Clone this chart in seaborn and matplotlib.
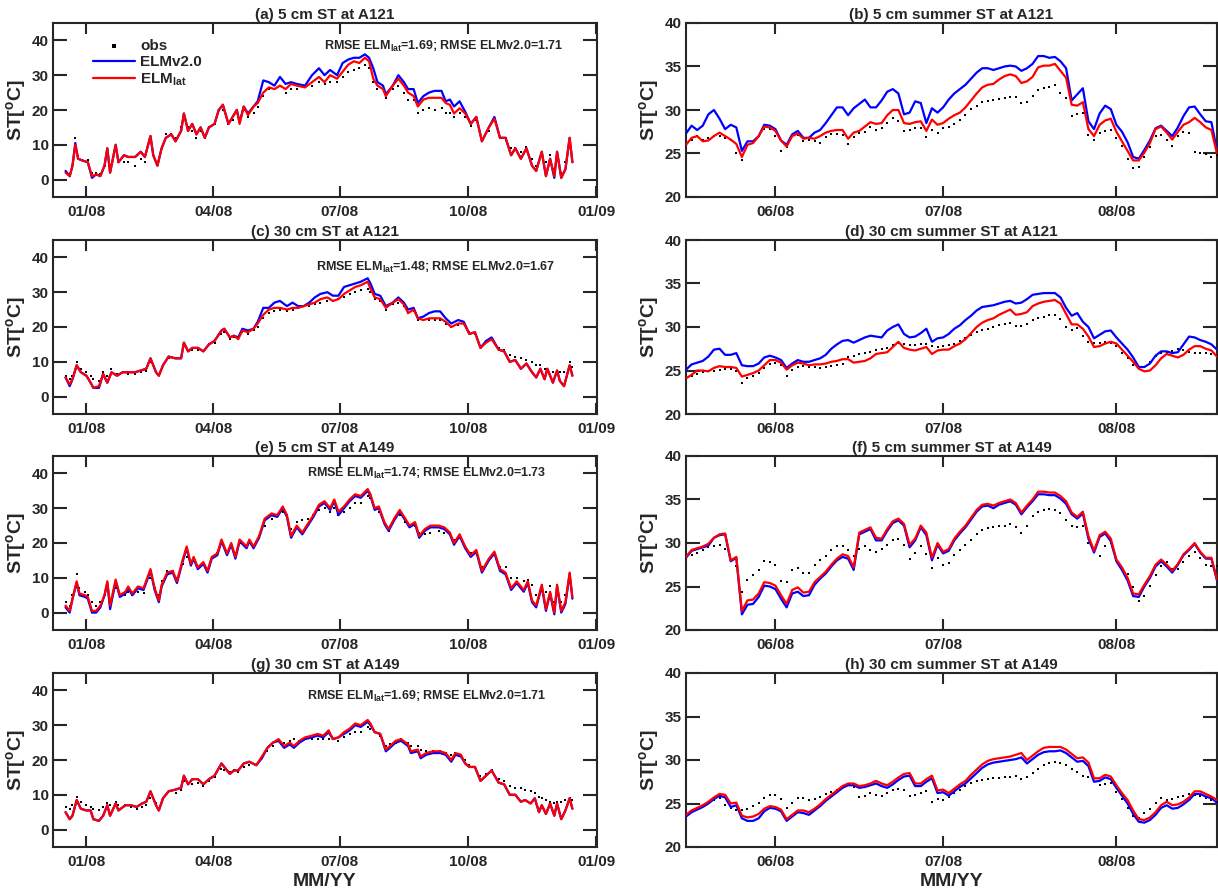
import numpy as np
import pandas as pd
import matplotlib
matplotlib.use("Agg")
import matplotlib.pyplot as plt
import matplotlib.dates as mdates
import seaborn as sns

# ---------------- data ----------------
# Annual panels: day offsets from 1 Jan 2008
days_a = [-15,-12,-10,-8,-6,-3,1,4,7,10,13,15,17,21,23,27,30,35,39,42,46,48,51,54,57,61,64,68,70,73,76,79,82,85,88,92,95,98,102,105,108,110,113,116,120,123,127,131,135,139,143,147,151,157,162,167,171,175,180,184,188,192,196,200,203,206,209,213,215,220,224,228,231,235,238,242,246,250,255,258,261,264,268,272,276,280,284,289,293,297,301,305,308,312,316,320,323,327,330,333,336,338,341,344,347,349]
lat_a = [2,1,4,10,6,5.5,5,1,1.5,1,4,9,2,10,5,7,6.5,6.5,8,6.5,12.5,7,4,9,12,13,11,14,19,14,16,13,15,12,15,16,20,21.5,16,18,20,16,21,18.5,21,22,25,26.5,26,27,26,27.5,27,26.5,28,29.5,28,30,29,31,33,34,33.5,35,34,29,27,26,24,27,29,27,25,24,21,23,23.5,23.5,23.5,22,21.5,19,20.5,19,16,18,11,15,17.5,12,12,7,9,6,9,4,2.5,8,1,6,1,8,0.5,3,12,5]
v2_a = [2.5,1,4,10.5,6,5.5,5,0.5,1.5,1,4,9,2,10,5,7,6.5,6.5,8,6.5,12.5,7,4,9,12,13,11,14,19,14,16,13,15,12,15,16,20,21.5,16,18,20,16.5,21,19,21,22.5,28.5,28,27,29.5,27.5,28,27.5,27,30,32,30,31.5,30,33.5,34.5,35,35,36,35,32,28,27,24.5,27,30,28,26,26,22,24,25,25.5,25.5,22.5,23,21,22.5,19.5,16,18,11,15,18,12,12,7,9,6,9,4,2.5,8,1,6,0.5,8,0.5,3,12,5]
obs_a = [2,1,4,12,6.5,5.5,5.5,2,2,1.5,4,7,3,9,5,5,5,4,6,5,11,7,5,9,13,13,12,15,18,15,14,12,14,12,15,16,20,20,16,17,20,17,20,18,19,21,24,26,26,27,25,26,26,26.5,27,28,27.5,28,28,29.5,31,31.5,32,33,32,28,26,26,23.5,26,27,25,23,23,19,20,20.5,20,20.5,19,19,18,19,18,15.5,17,11,14,17,12,12,9,9,8,9.5,6,4,8,5,7,3,7,2,5,10,6]

days_c = [-15,-12,-10,-7,-4,0,3,5,9,12,15,18,22,26,30,35,39,43,46,50,52,55,59,64,68,70,73,76,80,84,88,92,97,99,103,106,109,112,116,120,123,127,131,135,139,144,148,152,156,160,164,168,173,177,181,185,189,193,197,202,204,207,211,215,220,224,228,231,235,238,242,246,250,254,258,262,267,271,275,279,283,287,291,296,300,304,308,312,316,320,323,326,329,331,335,338,340,343,347,349]
lat_c = [5.5,3.5,5,9,7,6,4,2.5,3,6.5,4,7,6,7,7,7,7.5,8,11,7,6,9,11.5,11,11,15.5,13,14,14,13,15,16,19,19.5,17,17.5,16.5,19,18.5,19.5,21,23.5,25,25.5,25.5,25,25.5,25.5,26,26.5,27,28,28.5,27.5,28,29.5,30.5,31.5,32,33,31,28.5,28,25.5,27,28,26.5,24,25,22.5,22,22.5,22.5,22.5,21.5,20,21,21,18,18.5,14,15.5,16.5,13.5,13,10,10.5,8,9.5,7,5.5,8,5,8,4,7.5,4.5,3,9,6]
v2_c = [5.5,3,5,9,7,6,4,2.5,2.5,6.5,4,7,6,7,7,7,7.5,8,11,7,6,9,11.5,11,11,15.5,13,14,14,13,15,16,19,19.5,17,17.5,17,19.5,19,19.5,21.5,25.5,25.5,27,27.5,26,27,26,26,27,28.5,29.5,30,29,29,31.5,32,32.5,33,34,32.5,29.5,29,26,27,28.5,27,25,25.5,22.5,23,24,24.5,24.5,22.5,21,22,21.5,18,18.5,14,16,17,13.5,13,10,10.5,8,9.5,7,5.5,8,5,8,4,7.5,4.5,3,9,6]
obs_c = [6,5,6,10,8,7,6,5,4.5,7,6,8,6.5,7,6.5,6.5,7,7.5,10,7,6.5,9,11,11,11.5,14.5,13,13.5,13.5,13,15,15.5,18,18.5,16.5,17,16.5,18.5,18,19,20,22.5,24,24.5,25,24.5,25,25.5,26,26,26.5,27,27.5,27.5,28,28.5,29.5,30,30.5,31,30,28,27.5,25,26.5,27,26,24,24.5,22,22,22,22,22,21,20,20.5,21,18.5,18,14.5,16,16.5,14,13.5,12,11.5,11,10.5,10,9,9,8,8,7,7,7,7,10,8.5]

days_e = [-15,-12,-10,-7,-5,-1,1,4,7,10,13,15,17,21,24,28,30,33,37,41,46,49,52,54,58,62,65,69,72,75,77,80,84,87,90,94,97,101,104,107,110,115,117,120,124,128,133,137,141,144,147,151,155,159,163,167,171,175,178,181,185,189,193,197,202,204,207,210,214,217,221,225,229,232,236,239,243,247,253,257,261,264,268,272,276,280,284,289,293,297,301,305,309,314,317,320,323,327,330,333,336,338,341,344,347,349]
lat_e = [2,0.5,4,9,5.5,5,4.5,0.5,0.5,2,5,9,2,9.5,5,6,7.5,5.5,7.5,7,12.5,7,3.5,8,11.5,12,9,15,19,14,16,13,14.5,12,16,17,21,17,20,16,21,19,21,19,22,27,28.5,28,30.5,28,22,25,23,25.5,28,31,32,30,32.5,29,30.5,32.5,34,33.5,35.5,34,30,30.5,26,24,27,29.5,27,25,26,22,24,25,25,24.5,23,20,22.5,19,16.5,18,12,15.5,17.5,12.5,11.5,7,9,6.5,9,3.5,2,8,1,6,0,8,0.5,3,11.5,4.5]
v2_e = [1.5,0,4,8.5,5,4.5,4,0,0,1.5,5,8.5,1,9,4.5,5.5,7,5,7,6.5,12,6.5,3,7.5,11,11.5,8.5,14.5,18.5,13.5,15.5,12.5,14,11.5,15.5,16.5,20.5,16.5,19.5,15.5,20.5,18.5,20.5,18.5,21.5,26.5,28,27.5,30,27.5,21.5,24.5,22.5,25,27.5,30.5,31.5,29.5,32,28,30,32,33.5,33,35,33.5,29.5,30,25.5,23.5,26.5,29,26.5,24.5,25.5,21.5,23.5,24.5,24.5,24,22.5,19.5,22,18.5,16,17.5,11.5,15,17,12,11,6.5,8.5,6,8.5,3,1.5,7.5,0.5,5.5,-0.5,7.5,0,2.5,11,4]
obs_e = [3,2,5,11,7,6,5,3,2,3,5,7,3,7,5,5,6,5,6,5.5,10,7,5,9,12,12,10,14,16,14,15,13,14,12,16,17,20,17,19,17,20,19,20,19,22,25,27,28,29,28,24,26,26.5,27,28,29.5,30,29,30,28,29,30,31.5,31.5,33.5,33,30,29,26,23.5,27,28,26,25,25,23,22.5,23,23.5,23,22.5,21,21.5,19,17,17.5,13,15,16.5,13,13,10,10,9,9.5,8,5,8,6,7.5,3,8,3,5,11,6]

days_g = [-15,-12,-10,-7,-4,0,3,5,9,12,15,17,21,23,28,32,36,40,43,46,50,52,55,59,64,68,70,73,76,80,84,88,92,97,99,103,106,109,113,117,122,126,130,134,138,142,146,149,153,157,162,166,170,174,177,181,185,189,193,197,202,204,207,211,215,218,222,226,231,233,238,240,244,249,254,258,262,265,269,272,275,279,283,287,291,296,300,304,308,312,315,319,322,325,327,330,333,336,338,341,344,347,349]
lat_g = [5,3,4,8.5,6,5.5,5.5,3,2.5,4,7,4,7.5,5.5,7,7,6.5,7.5,8,11,7,5.5,9,11,11.5,12,15.5,13,14.5,14.5,13,14.5,15.5,19,18,16,17,17,19,19.5,18.5,21,23.5,25,26,24,25,24,25.5,26.5,27,27.5,27,28.5,26,26.5,28,29,30.5,30,31.5,30.5,28,27.5,23,24,25.5,26,24.5,22.5,23,21,22,22.5,22.5,22,20,22,21.5,19,18,18,14,15.5,17,13.5,13,10,10,8,8.5,7.5,9,5,7,4.5,7.5,4,7.5,3,5.5,9,6]
v2_g = [5,3,4,8.5,6,5.5,5.5,3,2.5,4,7,4,7.5,5.5,7,7,6.5,7.5,8,11,7,5.5,9,11,11.5,12,15.5,13,14.5,14.5,13,14.5,15.5,19,18,16,17,17,19,19.5,18.5,20.5,23.5,25,25.5,23.5,24.5,23.5,25,26,26.5,27,26.5,28,26,26.5,27.5,28.5,30,29.5,31,30,28,27.5,22.5,23.5,25,25.5,24,22,22.5,20.5,21.5,22,22,21.5,19.5,21.5,21,19,18,18,14,15.5,17,13.5,13,10,10,8,8.5,7.5,9,5,7,4.5,7.5,4,7.5,3,5.5,9,6]
obs_g = [6.5,6,7,9.5,8,7,6.5,6,5.5,6.5,7.5,7,8,7,7,6.5,6,6.5,7,9,7.5,6,9,11,10.5,11.5,14,13,13,13.5,12.5,14,15,17.5,17,16.5,17,16.5,18,18.5,18.5,20.5,22.5,24,25.5,25,25.5,26,25.5,26,26,26,26,26,26,25.5,26.5,27.5,28,28,29.5,29,28,27,24,24.5,25,26,25,24,24,23,22.5,22.5,22.5,22,21.5,22,21.5,20,18.5,18,15.5,16,17,14.5,14,12.5,12,12,11.5,11,10.5,9.5,9,8.5,8,7.5,8,8,8.5,9,8.5]

# Summer panels: daily values, day offsets from 1 Jun 2008
days_summer = list(range(-16, 80))
obs_b = [26.0,26.5,27.0,26.5,26.8,27.0,27.0,26.8,26.6,25.0,24.2,26.0,26.3,27.0,27.8,27.8,
         27.0,25.3,25.7,27.0,27.1,26.4,26.6,26.4,26.2,26.9,27.2,27.2,27.1,26.1,26.9,27.3,27.5,28.0,27.7,27.9,28.5,29.1,28.7,27.6,27.7,27.9,27.9,26.9,27.7,27.4,
         27.9,28.1,28.4,28.8,29.4,30.1,30.5,30.9,31.0,31.1,31.3,31.4,31.5,31.5,30.8,30.9,31.6,32.3,32.5,32.7,32.9,32.0,31.4,29.3,29.5,29.6,27.1,26.6,27.3,27.6,
         27.7,26.8,25.9,24.4,23.3,23.5,24.6,25.8,27.0,27.1,26.5,25.9,27.0,27.5,27.3,25.2,25.1,24.9,24.6,24.8]
v2_b = [27.3,28.2,27.7,28.2,29.5,30.0,29.0,27.8,28.3,28.0,25.3,26.4,26.4,27.0,28.3,28.2,
        27.8,26.5,26.0,27.2,27.6,26.8,26.8,27.4,27.7,28.5,29.4,30.3,30.3,29.4,30.2,30.7,31.2,30.3,30.3,31.1,32.1,32.4,31.9,29.5,29.7,31.0,30.8,28.5,30.2,29.7,
        30.3,31.2,31.9,32.4,32.9,33.6,34.3,34.8,34.8,34.6,34.8,35.0,35.1,35.0,34.5,34.8,35.3,36.2,36.2,36.0,36.1,35.6,34.8,31.1,31.8,32.5,28.7,27.8,29.6,30.5,
        30.1,28.3,27.5,26.3,24.6,24.4,25.4,26.5,27.9,28.2,27.6,27.0,28.0,29.3,30.3,30.4,29.5,28.7,28.6,25.3]
lat_b = [26.0,26.8,27.0,26.4,26.5,27.0,27.4,27.0,26.6,26.1,24.6,26.0,26.2,27.0,28.1,28.0,
         27.6,26.5,25.8,27.0,27.3,26.7,26.8,26.7,27.0,27.4,27.6,27.7,27.7,26.7,27.4,27.6,28.1,28.6,28.4,28.5,29.4,30.0,30.0,28.5,28.4,28.6,28.7,27.6,28.9,28.3,
         28.5,29.0,29.4,29.7,30.3,31.1,31.9,32.6,32.9,33.0,33.5,33.9,34.1,33.9,33.1,33.3,33.8,34.9,35.1,35.1,35.3,34.5,33.7,30.6,30.5,30.9,27.8,27.0,28.3,28.8,
         29.0,27.5,26.4,25.3,24.2,24.2,25.1,26.2,27.8,28.1,27.4,26.6,27.5,28.3,28.6,29.1,28.6,28.0,27.7,25.0]

obs_d = [24.1,24.4,24.6,24.8,24.9,25.0,25.1,25.2,25.2,24.9,23.6,24.1,24.4,24.7,25.3,25.8,
         25.9,25.6,24.4,25.1,25.4,25.5,25.4,25.4,25.3,25.4,25.5,25.6,25.7,26.5,26.7,26.9,27.0,27.1,27.3,27.5,27.6,27.9,28.2,28.0,27.9,27.9,28.0,28.0,27.8,27.7,
         27.8,27.9,28.1,28.4,28.7,29.1,29.4,29.6,29.8,30.0,30.2,30.4,30.5,30.1,30.1,30.4,30.8,31.0,31.2,31.4,31.4,30.9,30.0,29.7,29.9,29.0,28.3,28.2,28.2,28.3,
         28.2,27.8,27.0,26.4,25.6,25.3,25.4,26.0,26.7,27.0,27.0,27.2,27.5,27.3,27.1,27.0,27.0,27.0,26.9,26.8]
v2_d = [25.1,25.7,25.9,26.1,26.6,27.4,27.5,26.8,26.8,27.0,25.6,25.5,25.5,25.8,26.5,26.7,
        26.5,26.2,25.3,25.8,26.2,26.0,26.0,26.2,26.4,26.8,27.5,28.0,28.4,28.5,28.2,28.5,28.8,29.0,28.9,28.8,29.6,30.0,30.3,29.2,28.8,28.9,29.3,29.8,28.3,28.7,
        28.8,29.2,29.8,30.2,30.8,31.3,31.9,32.3,32.4,32.5,32.7,32.9,33.0,32.7,32.8,33.2,33.7,33.8,33.9,33.9,33.9,33.4,32.2,31.3,31.6,30.6,30.0,28.7,29.1,29.5,
        29.6,28.8,28.1,27.4,26.5,25.4,25.4,25.8,26.7,27.2,27.2,27.0,27.1,28.0,28.9,28.8,28.5,28.3,28.0,27.4]
lat_d = [24.1,24.5,25.0,25.0,24.9,25.3,25.5,25.4,25.4,25.3,24.3,24.5,24.7,25.0,25.6,26.2,
         26.2,25.9,25.1,25.6,25.9,25.8,25.6,25.7,25.7,25.8,26.0,26.1,26.3,26.3,25.9,26.0,26.1,26.4,26.9,27.0,27.1,27.7,28.3,27.6,27.4,27.3,27.5,27.7,26.9,27.3,
         27.4,27.4,27.8,28.1,28.6,29.3,30.0,30.5,30.8,31.0,31.4,31.7,32.0,31.4,31.5,31.7,32.4,32.7,32.9,33.0,33.1,32.7,31.5,30.3,30.3,29.8,28.9,27.7,27.8,28.1,
         28.3,28.1,27.4,26.7,26.0,25.2,24.9,25.0,25.6,26.4,26.9,26.7,26.5,26.8,27.4,27.8,27.8,27.5,27.3,26.6]

obs_f = [28.5,28.6,28.9,29.2,29.5,29.7,29.8,29.3,28.0,27.3,24.4,25.8,26.3,26.9,27.9,27.8,
         27.5,25.6,25.5,26.9,27.1,26.5,26.6,27.5,28.0,28.5,29.2,29.6,29.6,29.2,28.5,29.3,29.7,29.2,29.0,29.3,29.8,30.3,30.5,29.8,28.2,28.8,29.7,28.7,27.1,28.3,
         27.5,27.7,28.6,29.2,29.8,30.4,31.0,31.5,31.7,31.8,31.9,32.0,32.2,31.8,31.2,32.0,33.1,33.6,33.8,33.9,33.8,33.4,32.6,31.9,31.8,32.0,30.0,29.0,28.5,29.7,
         30.0,28.2,27.0,26.4,25.0,23.3,23.9,25.1,26.3,27.4,27.8,27.0,27.0,27.8,28.5,29.0,28.3,27.5,27.3,27.4]
v2_f = [28.3,29.1,29.3,29.5,29.7,30.6,30.9,31.0,27.9,28.3,21.8,22.9,23.0,23.8,25.1,25.0,
        24.7,23.6,22.6,24.2,24.4,23.9,24.0,25.2,25.9,26.5,27.3,28.0,28.4,28.2,26.9,31.0,31.3,31.6,30.3,30.3,31.4,32.3,32.6,32.0,29.5,30.3,31.8,30.9,28.0,29.8,
        28.8,29.1,30.3,31.1,31.8,32.7,33.6,34.2,34.3,34.0,34.4,34.6,34.8,34.4,33.3,34.1,34.8,35.6,35.6,35.5,35.5,35.1,34.5,33.3,32.8,33.4,30.5,28.9,30.7,31.1,
        30.2,27.9,26.9,25.7,23.9,23.8,25.0,26.0,27.3,27.9,27.3,26.6,27.5,28.6,29.2,29.9,28.9,28.2,28.2,25.7]
lat_f = [28.4,29.2,29.4,29.6,29.9,30.6,31.0,31.1,28.0,28.4,22.2,23.4,23.5,24.2,25.5,25.4,
         25.1,24.0,23.0,24.6,24.9,24.3,24.4,25.5,26.1,26.7,27.5,28.2,28.7,28.5,27.2,31.2,31.5,31.8,30.6,30.5,31.6,32.5,32.8,32.2,29.8,30.5,32.0,31.2,28.3,30.0,
         29.0,29.3,30.5,31.3,32.0,32.9,33.8,34.4,34.5,34.3,34.6,34.8,35.0,34.6,33.5,34.3,35.0,35.9,35.9,35.8,35.8,35.4,34.8,33.5,33.0,33.6,30.8,29.1,30.9,31.3,
         30.5,28.1,27.2,26.0,24.2,24.1,25.2,26.2,27.5,28.1,27.5,26.8,27.6,28.7,29.3,30.0,29.0,28.3,28.3,25.8]

obs_h = [23.6,24.1,24.5,24.8,25.1,25.4,25.6,24.8,24.5,24.3,24.2,24.4,24.7,25.1,25.6,26.0,
         26.0,25.5,24.5,25.1,25.6,25.6,25.4,25.5,25.8,26.1,26.3,26.6,26.9,27.1,26.9,25.7,25.9,26.2,26.0,25.9,26.2,26.5,26.7,26.6,25.9,26.0,26.2,26.4,25.2,25.5,
         25.4,25.8,26.2,26.6,27.0,27.3,27.6,27.7,27.8,27.9,27.9,28.0,28.0,28.2,27.8,28.0,28.5,29.0,29.4,29.6,29.8,29.6,29.4,29.0,28.6,28.2,28.1,27.9,27.1,27.2,
         27.3,26.3,25.5,24.5,23.6,23.3,23.9,24.4,25.1,25.6,25.4,25.5,25.7,25.9,26.1,26.0,25.9,25.6,25.4,25.2]
v2_h = [23.5,24.0,24.3,24.6,25.0,25.5,25.9,25.7,24.6,24.8,23.3,23.0,23.0,23.3,24.1,24.5,
        24.4,24.1,23.0,23.5,24.0,23.9,23.7,24.2,24.7,25.3,25.8,26.3,26.8,27.1,27.1,26.8,26.9,27.1,27.3,27.0,26.8,27.2,27.7,28.1,28.2,27.0,27.0,27.5,27.9,26.2,
        26.3,25.9,26.4,26.9,27.3,27.9,28.5,29.1,29.5,29.7,29.8,29.9,30.0,30.1,30.3,29.6,30.1,30.6,30.9,31.0,31.0,31.1,30.8,30.3,29.8,29.9,29.3,27.5,27.6,28.0,
        27.8,26.8,25.9,25.0,23.8,22.9,22.8,23.1,23.7,24.5,24.8,24.4,24.5,24.9,25.4,26.1,26.1,25.8,25.6,25.1]
lat_h = [23.7,24.2,24.5,24.8,25.2,25.7,26.1,26.0,25.0,25.1,23.6,23.4,23.5,23.8,24.4,24.7,
         24.6,24.3,23.2,23.7,24.2,24.2,24.0,24.4,24.9,25.5,26.0,26.5,27.0,27.3,27.3,27.0,27.1,27.3,27.6,27.3,27.1,27.5,28.0,28.4,28.5,27.3,27.3,27.8,28.2,26.5,
         26.6,26.2,26.7,27.2,27.6,28.3,28.9,29.5,29.9,30.1,30.2,30.3,30.4,30.6,30.8,30.0,30.5,31.0,31.4,31.5,31.5,31.5,31.2,30.7,30.2,30.3,29.7,27.9,27.9,28.3,
         28.1,27.1,26.2,25.4,24.2,23.2,23.1,23.4,24.0,24.8,25.2,24.8,24.9,25.2,25.7,26.4,26.4,26.1,25.8,25.4]

titles_left = ["(a) 5 cm ST at A121", "(c) 30 cm ST at A121", "(e) 5 cm ST at A149", "(g) 30 cm ST at A149"]
titles_right = ["(b) 5 cm summer ST at A121", "(d) 30 cm summer ST at A121", "(f) 5 cm summer ST at A149", "(h) 30 cm summer ST at A149"]
rmse_texts = [r"RMSE ELM$_{lat}$=1.69; RMSE ELMv2.0=1.71",
              r"RMSE ELM$_{lat}$=1.48; RMSE ELMv2.0=1.67",
              r"RMSE ELM$_{lat}$=1.74; RMSE ELMv2.0=1.73",
              r"RMSE ELM$_{lat}$=1.69; RMSE ELMv2.0=1.71"]
left_ticks = ["2008-01-01", "2008-04-01", "2008-07-01", "2008-10-01", "2009-01-01"]
right_ticks = ["2008-06-01", "2008-07-01", "2008-08-01"]

# ---------------- style ----------------
sns.set_style("white")
plt.rcParams["font.family"] = ["Liberation Sans", "DejaVu Sans"]
plt.rcParams["font.weight"] = "bold"
plt.rcParams["axes.titleweight"] = "bold"
plt.rcParams["axes.labelweight"] = "bold"
plt.rcParams["mathtext.fontset"] = "custom"
plt.rcParams["mathtext.rm"] = "Liberation Sans:bold"
plt.rcParams["mathtext.bf"] = "Liberation Sans:bold"
plt.rcParams["mathtext.it"] = "Liberation Sans:bold"
plt.rcParams["mathtext.default"] = "bf"
DARK = "#262626"

W, H = 1218, 890
fig = plt.figure(figsize=(W / 100, H / 100), dpi=100)
row_bottoms = [197, 414, 630, 847]
ax_h = 174 / H

base_year = pd.Timestamp("2008-01-01")
base_summer = pd.Timestamp("2008-06-01")

left_sets = [(days_a, obs_a, v2_a, lat_a), (days_c, obs_c, v2_c, lat_c),
             (days_e, obs_e, v2_e, lat_e), (days_g, obs_g, v2_g, lat_g)]
right_sets = [(obs_b, v2_b, lat_b), (obs_d, v2_d, lat_d),
              (obs_f, v2_f, lat_f), (obs_h, v2_h, lat_h)]
rmse_pos = [(0.498, 0.864), (0.483, 0.843), (0.466, 0.897), (0.466, 0.864)]


def style_axes(ax):
    for s in ax.spines.values():
        s.set_visible(True)
        s.set_linewidth(1.5)
        s.set_color(DARK)
    ax.tick_params(direction="in", width=1.5, top=True, right=True,
                   bottom=True, left=True, labelsize=11, colors=DARK)
    ax.tick_params(axis="x", length=8, pad=6)
    ax.tick_params(axis="y", length=10, pad=3)
    for lab in ax.get_xticklabels() + ax.get_yticklabels():
        lab.set_fontweight("bold")
    ax.set_ylabel(r"ST[$^{o}$C]", fontsize=14, color=DARK, labelpad=3)


summer_dates = base_summer + pd.to_timedelta(days_summer, unit="D")

for i in range(4):
    bottom = 1 - row_bottoms[i] / H
    # ---- annual panel ----
    axL = fig.add_axes([53 / W, bottom, 544 / W, ax_h])
    d, o, v2, lt = left_sets[i]
    dates = base_year + pd.to_timedelta(d, unit="D")
    sns.scatterplot(x=dates, y=o, ax=axL, color="k", marker="s", s=4, linewidth=0,
                    label="obs", zorder=3)
    sns.lineplot(x=dates, y=v2, ax=axL, color="#0000FF", lw=1.6, label="ELMv2.0", zorder=4)
    sns.lineplot(x=dates, y=lt, ax=axL, color="#FF0000", lw=1.6, label=r"ELM$_{lat}$", zorder=5)
    axL.set_xlim(pd.Timestamp("2007-12-08"), pd.Timestamp("2009-01-01 16:00"))
    axL.set_ylim(-5, 45)
    axL.set_yticks([0, 10, 20, 30, 40])
    axL.set_xticks(pd.to_datetime(left_ticks))
    axL.xaxis.set_major_formatter(mdates.DateFormatter("%m/%y"))
    style_axes(axL)
    axL.set_xlabel("")
    axL.set_title(titles_left[i], fontsize=11, pad=3, color=DARK)
    axL.text(rmse_pos[i][0], rmse_pos[i][1], rmse_texts[i], transform=axL.transAxes,
             ha="left", va="center", fontsize=9, color=DARK)
    if i == 0:
        axL.legend(loc="upper left", bbox_to_anchor=(0.063, 0.945), frameon=False,
                   fontsize=11, handlelength=2.75, handletextpad=0.33, labelspacing=0.15,
                   scatterpoints=1, markerscale=1.3, borderaxespad=0)
    elif axL.get_legend() is not None:
        axL.get_legend().remove()

    # ---- summer panel ----
    axR = fig.add_axes([686 / W, bottom, 531 / W, ax_h])
    o, v2, lt = right_sets[i]
    sns.scatterplot(x=summer_dates, y=o, ax=axR, color="k", marker="s", s=4, linewidth=0,
                    zorder=3, legend=False)
    sns.lineplot(x=summer_dates, y=v2, ax=axR, color="#0000FF", lw=1.6, zorder=4, legend=False)
    sns.lineplot(x=summer_dates, y=lt, ax=axR, color="#FF0000", lw=1.6, zorder=5, legend=False)
    axR.set_xlim(pd.Timestamp("2008-05-16"), pd.Timestamp("2008-08-19"))
    axR.set_ylim(20, 40)
    axR.set_yticks([20, 25, 30, 35, 40])
    axR.set_xticks(pd.to_datetime(right_ticks))
    axR.xaxis.set_major_formatter(mdates.DateFormatter("%m/%y"))
    style_axes(axR)
    axR.set_xlabel("")
    axR.set_title(titles_right[i], fontsize=11, pad=3, color=DARK)

    if i == 3:
        axL.set_xlabel("MM/YY", fontsize=14, color=DARK, labelpad=3)
        axR.set_xlabel("MM/YY", fontsize=14, color=DARK, labelpad=3)

fig.savefig("out.png", dpi=100)
